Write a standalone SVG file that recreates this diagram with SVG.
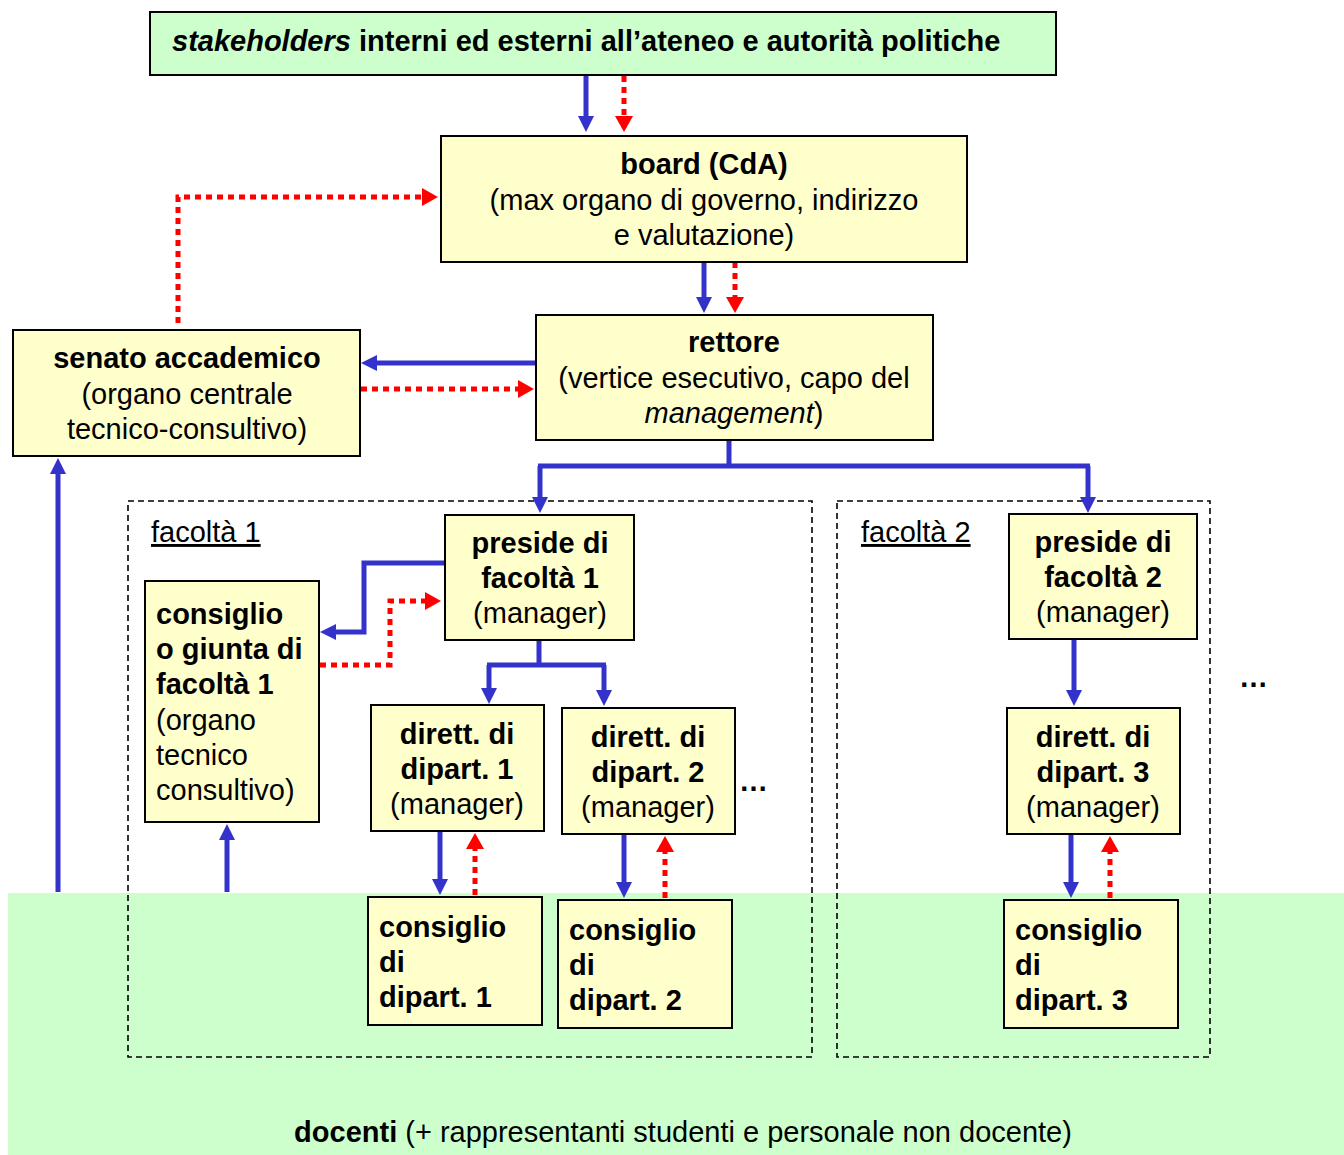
<svg xmlns="http://www.w3.org/2000/svg" width="1344" height="1155" viewBox="0 0 1344 1155">
  <style>
    text { font-family: "Liberation Sans", Arial, sans-serif; font-size: 29px; fill: #000; }
    .b { font-weight: bold; }
    .c { text-anchor: middle; }
    .node { fill: #ffffcc; stroke: #000; stroke-width: 2; }
    .green { fill: #ccffcc; }
    .frame { fill: none; stroke: #000; stroke-width: 1.6; stroke-dasharray: 6 4; }
    .blue { fill: none; stroke: #3333cc; stroke-width: 5; }
    .red { fill: none; stroke: #ff0000; stroke-width: 5; stroke-dasharray: 6 5; }
  </style>
  <defs>
    <marker id="hb" markerUnits="userSpaceOnUse" markerWidth="18" markerHeight="18" refX="2" refY="8" orient="auto">
      <path d="M0,0 L16,8 L0,16 z" fill="#3333cc"/>
    </marker>
    <marker id="hr" markerUnits="userSpaceOnUse" markerWidth="18" markerHeight="20" refX="2" refY="9" orient="auto">
      <path d="M0,0 L16,9 L0,18 z" fill="#ff0000"/>
    </marker>
  </defs>

  <rect width="1344" height="1155" fill="#ffffff"/>

  <!-- base area: teaching staff -->
  <g id="docenti">
    <rect class="green" x="8" y="893" width="1336" height="262"/>
    <text class="c" x="683" y="1142"><tspan class="b">docenti</tspan> (+ rappresentanti studenti e personale non docente)</text>
  </g>

  <!-- faculty frames -->
  <g id="facolta1">
    <rect class="frame" x="128" y="501" width="684" height="556"/>
    <text x="151" y="542" text-decoration="underline">facoltà 1</text>
  </g>
  <g id="facolta2">
    <rect class="frame" x="837" y="501" width="373" height="556"/>
    <text x="861" y="542" text-decoration="underline">facoltà 2</text>
  </g>

  <!-- connectors -->
  <g id="connectors">
    <path class="blue" d="M586,76 V118" marker-end="url(#hb)"/>
    <path class="red" d="M624,76 V118" marker-end="url(#hr)"/>
    <path class="blue" d="M704,262 V299" marker-end="url(#hb)"/>
    <path class="red" d="M735,262 V299" marker-end="url(#hr)"/>
    <path class="red" d="M178,323 V197 H424" marker-end="url(#hr)"/>
    <path class="blue" d="M536,363 H375" marker-end="url(#hb)"/>
    <path class="red" d="M361,389 H520" marker-end="url(#hr)"/>
    <path class="blue" d="M729,440 V466 M538,466 H1090"/>
    <path class="blue" d="M540,466 V499" marker-end="url(#hb)"/>
    <path class="blue" d="M1088,466 V499" marker-end="url(#hb)"/>
    <path class="blue" d="M445,563 H364 V632 H334" marker-end="url(#hb)"/>
    <path class="red" d="M320,665 H390 V601 H427" marker-end="url(#hr)"/>
    <path class="blue" d="M539,640 V665 M487,665 H606"/>
    <path class="blue" d="M489,665 V690" marker-end="url(#hb)"/>
    <path class="blue" d="M604,665 V692" marker-end="url(#hb)"/>
    <path class="blue" d="M1074,640 V692" marker-end="url(#hb)"/>
    <path class="blue" d="M440,831 V881" marker-end="url(#hb)"/>
    <path class="red" d="M475,895 V847" marker-end="url(#hr)"/>
    <path class="blue" d="M624,834 V884" marker-end="url(#hb)"/>
    <path class="red" d="M665,898 V850" marker-end="url(#hr)"/>
    <path class="blue" d="M1071,834 V884" marker-end="url(#hb)"/>
    <path class="red" d="M1110,898 V850" marker-end="url(#hr)"/>
    <path class="blue" d="M58,892 V472" marker-end="url(#hb)"/>
    <path class="blue" d="M227,892 V838" marker-end="url(#hb)"/>
  </g>

  <g id="stakeholders">
    <rect x="150" y="12" width="906" height="63" fill="#ccffcc" stroke="#000" stroke-width="2"/>
    <text class="b" x="172" y="51" font-size="28"><tspan font-style="italic">stakeholders</tspan> interni ed esterni all’ateneo e autorità politiche</text>
  </g>

  <g id="board">
    <rect class="node" x="441" y="136" width="526" height="126"/>
    <text class="c b" x="704" y="174">board (CdA)</text>
    <text class="c" x="704" y="210">(max organo di governo, indirizzo</text>
    <text class="c" x="704" y="245">e valutazione)</text>
  </g>

  <g id="rettore">
    <rect class="node" x="536" y="315" width="397" height="125"/>
    <text class="c b" x="734" y="352">rettore</text>
    <text class="c" x="734" y="388">(vertice esecutivo, capo del</text>
    <text class="c" x="734" y="423"><tspan font-style="italic">management</tspan>)</text>
  </g>

  <g id="senato">
    <rect class="node" x="13" y="330" width="347" height="126"/>
    <text class="c b" x="187" y="368">senato accademico</text>
    <text class="c" x="187" y="404">(organo centrale</text>
    <text class="c" x="187" y="439">tecnico-consultivo)</text>
  </g>

  <g id="preside1">
    <rect class="node" x="445" y="515" width="189" height="125"/>
    <text class="c b" x="540" y="553">preside di</text>
    <text class="c b" x="540" y="588">facoltà 1</text>
    <text class="c" x="540" y="623">(manager)</text>
  </g>

  <g id="preside2">
    <rect class="node" x="1009" y="514" width="188" height="125"/>
    <text class="c b" x="1103" y="552">preside di</text>
    <text class="c b" x="1103" y="587">facoltà 2</text>
    <text class="c" x="1103" y="622">(manager)</text>
  </g>

  <g id="consiglio-facolta1">
    <rect class="node" x="145" y="581" width="174" height="241"/>
    <text class="b" x="156" y="624">consiglio</text>
    <text class="b" x="156" y="659">o giunta di</text>
    <text class="b" x="156" y="694">facoltà 1</text>
    <text x="156" y="730">(organo</text>
    <text x="156" y="765">tecnico</text>
    <text x="156" y="800">consultivo)</text>
  </g>

  <g id="direttore1">
    <rect class="node" x="371" y="705" width="173" height="126"/>
    <text class="c b" x="457" y="744">dirett. di</text>
    <text class="c b" x="457" y="779">dipart. 1</text>
    <text class="c" x="457" y="814">(manager)</text>
  </g>

  <g id="direttore2">
    <rect class="node" x="562" y="708" width="173" height="126"/>
    <text class="c b" x="648" y="747">dirett. di</text>
    <text class="c b" x="648" y="782">dipart. 2</text>
    <text class="c" x="648" y="817">(manager)</text>
  </g>
  <text class="b" x="739" y="791">…</text>

  <g id="direttore3">
    <rect class="node" x="1007" y="708" width="173" height="126"/>
    <text class="c b" x="1093" y="747">dirett. di</text>
    <text class="c b" x="1093" y="782">dipart. 3</text>
    <text class="c" x="1093" y="817">(manager)</text>
  </g>
  <text class="b" x="1239" y="687">…</text>

  <g id="consiglio-dipart1">
    <rect class="node" x="368" y="897" width="174" height="128"/>
    <text class="b" x="379" y="937">consiglio</text>
    <text class="b" x="379" y="972">di</text>
    <text class="b" x="379" y="1007">dipart. 1</text>
  </g>

  <g id="consiglio-dipart2">
    <rect class="node" x="558" y="900" width="174" height="128"/>
    <text class="b" x="569" y="940">consiglio</text>
    <text class="b" x="569" y="975">di</text>
    <text class="b" x="569" y="1010">dipart. 2</text>
  </g>

  <g id="consiglio-dipart3">
    <rect class="node" x="1004" y="900" width="174" height="128"/>
    <text class="b" x="1015" y="940">consiglio</text>
    <text class="b" x="1015" y="975">di</text>
    <text class="b" x="1015" y="1010">dipart. 3</text>
  </g>
</svg>
